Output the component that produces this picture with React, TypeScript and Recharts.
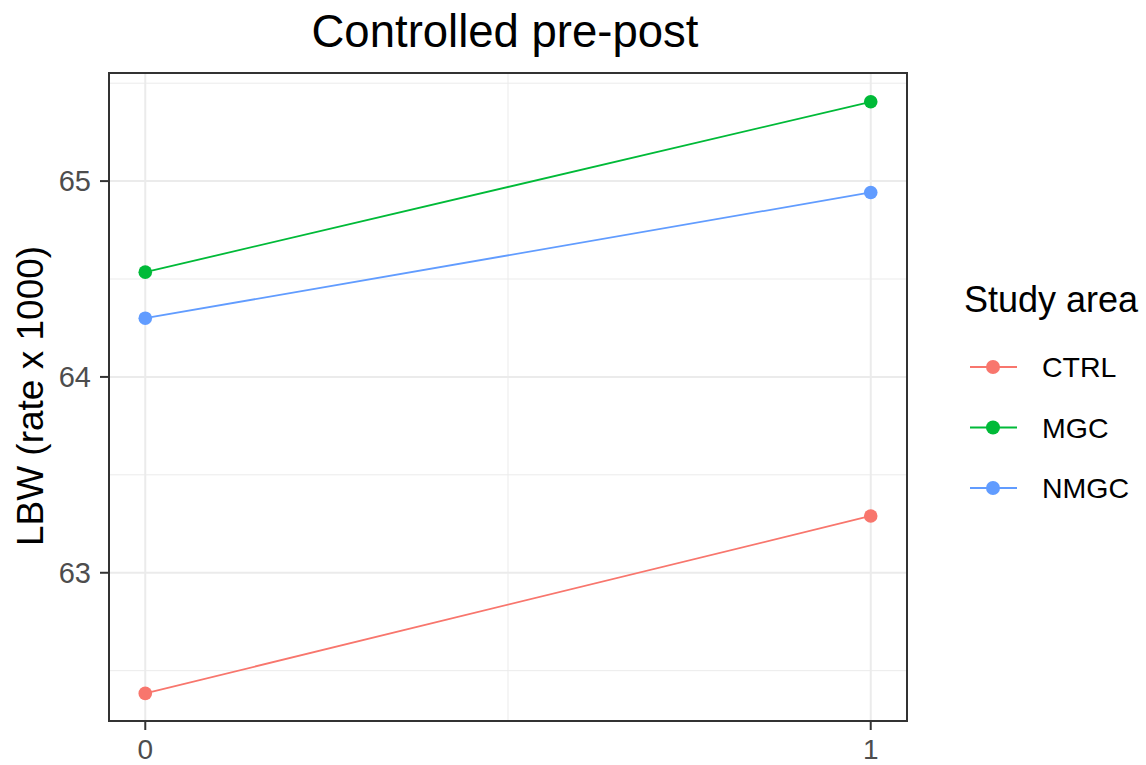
import React from 'react';
import { LineChart, Line, XAxis, YAxis, CartesianGrid } from 'recharts';

const periods = [0, 1];
const ctrl = [62.384, 63.29];
const mgc = [64.535, 65.405];
const nmgc = [64.3, 64.942];
const yTicks = [63, 64, 65];
const yMinor = [62.5, 63.5, 64.5, 65.5];
const xTicks = [0, 1];
const xMinor = [0.5];

const series = [
  { key: 'CTRL', values: ctrl, color: '#F8766D' },
  { key: 'MGC', values: mgc, color: '#00BA38' },
  { key: 'NMGC', values: nmgc, color: '#619CFF' },
];

const data = periods.map((p, i) => {
  const row: Record<string, number> = { period: p };
  series.forEach((s) => (row[s.key] = s.values[i]));
  return row;
});

const FONT = '"Liberation Sans", Arial, Helvetica, sans-serif';
const X_DOMAIN: [number, number] = [-0.05, 1.05];
const Y_DOMAIN: [number, number] = [62.243, 65.552];
const frame = { stroke: '#333333', strokeWidth: 2 };

const W = 1146;
const H = 765;
const M = { top: 73, right: 239, bottom: 0, left: 9 };
const Y_AXIS_W = 100;
const X_AXIS_H = 44;
const plotLeft = M.left + Y_AXIS_W;
const plotTop = M.top;
const plotW = W - M.right - plotLeft;
const plotH = H - M.bottom - X_AXIS_H - plotTop;

export default function App() {
  return (
    <div style={{ position: 'absolute', left: 0, top: 0, width: W, height: H, background: '#fff', fontFamily: FONT }}>
      <LineChart width={W} height={H} data={data} margin={M}>
        <CartesianGrid
          horizontalValues={yMinor}
          verticalValues={xMinor}
          stroke="#EBEBEB"
          strokeWidth={1}
        />
        <CartesianGrid
          horizontalValues={yTicks}
          verticalValues={xTicks}
          stroke="#EBEBEB"
          strokeWidth={2}
        />
        <XAxis
          dataKey="period"
          type="number"
          domain={X_DOMAIN}
          ticks={xTicks}
          allowDataOverflow
          height={X_AXIS_H}
          tickSize={9}
          tickMargin={9}
          axisLine={frame}
          tickLine={frame}
          tick={{ fill: '#4D4D4D', fontSize: 28, fontFamily: FONT }}
        />
        <YAxis
          type="number"
          domain={Y_DOMAIN}
          ticks={yTicks}
          allowDataOverflow
          width={Y_AXIS_W}
          tickSize={9}
          tickMargin={9}
          axisLine={frame}
          tickLine={frame}
          tick={{ fill: '#4D4D4D', fontSize: 29, fontFamily: FONT }}
        />
        {series.map((s) => (
          <Line
            key={s.key}
            dataKey={s.key}
            stroke={s.color}
            strokeWidth={1.8}
            dot={{ r: 6.8, fill: s.color, stroke: 'none' }}
            isAnimationActive={false}
          />
        ))}
      </LineChart>
      <svg
        width={W}
        height={H}
        style={{ position: 'absolute', left: 0, top: 0, pointerEvents: 'none' }}
      >
        <rect
          x={plotLeft}
          y={plotTop}
          width={plotW}
          height={plotH}
          fill="none"
          stroke="#333333"
          strokeWidth={2}
        />
        <text x={505} y={47} textAnchor="middle" fontSize={45.5} fill="#000" fontFamily={FONT}>
          Controlled pre-post
        </text>
        <text
          x={0}
          y={0}
          transform="translate(43,396) rotate(-90)"
          textAnchor="middle"
          fontSize={37}
          fill="#000"
          fontFamily={FONT}
        >
          LBW (rate x 1000)
        </text>
        <text x={964} y={312} fontSize={36} fill="#000" fontFamily={FONT}>
          Study area
        </text>
        {series.map((s, i) => {
          const cy = 367 + i * 60.5;
          return (
            <g key={s.key}>
              <line x1={970} x2={1017} y1={cy} y2={cy} stroke={s.color} strokeWidth={1.8} />
              <circle cx={993} cy={cy} r={7} fill={s.color} />
              <text x={1042} y={cy} dy="0.355em" fontSize={28.5} fill="#000" fontFamily={FONT}>
                {s.key}
              </text>
            </g>
          );
        })}
      </svg>
    </div>
  );
}
